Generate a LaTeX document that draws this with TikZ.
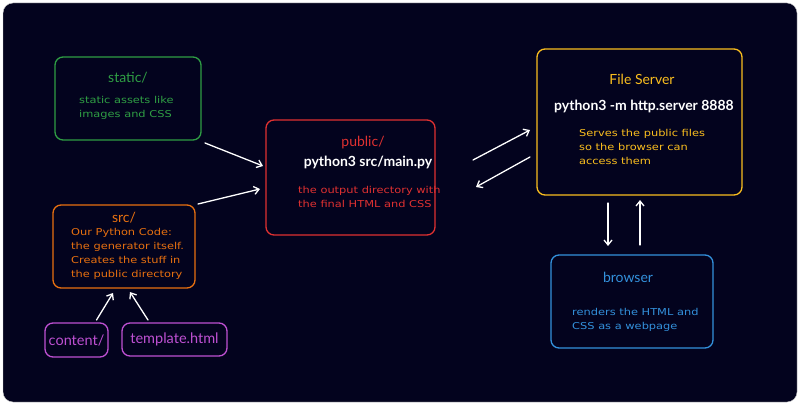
\documentclass[tikz,border=0pt]{standalone}
\usepackage{fontspec}
\setmainfont{Lato}
\newfontfamily\handfont[FakeStretch=1.2]{DejaVu Sans}
\usetikzlibrary{arrows.meta,positioning}
\definecolor{bgnavy}{RGB}{3,3,30}
\definecolor{cgreen}{RGB}{47,158,68}
\definecolor{corange}{RGB}{232,112,16}
\definecolor{cpurple}{RGB}{190,80,210}
\definecolor{cred}{RGB}{224,49,49}
\definecolor{cyellow}{RGB}{250,190,30}
\definecolor{cblue}{RGB}{51,145,220}
\begin{document}
\begin{tikzpicture}[x=1pt,y=-1pt,
  box/.style={draw=#1, line width=1.3pt, rounded corners=8pt, inner sep=0pt, outer sep=0pt},
  title/.style={text=#1, font=\fontsize{14}{16}\selectfont, inner sep=0pt},
  cmd/.style={text=white, font=\fontsize{14}{16}\selectfont\bfseries, inner sep=0pt},
  note/.style={text=#1, font=\handfont\fontsize{9.5}{14}\selectfont, align=left, anchor=west, inner sep=0pt},
  arr/.style={draw=white, line width=1.3pt, line cap=round, -{Straight Barb[length=5pt,width=8pt]}}]
\useasboundingbox (0,0) rectangle (800,406);
\draw[fill=bgnavy, draw=gray!40, rounded corners=10pt] (3,3) rectangle (797,402);
\node[box=cgreen, minimum width=146pt, minimum height=83pt] (static) at (128,98.5) {};
\node[title=cgreen] (statict) at (128,78) {static/};
\node[note=cgreen] (staticn) at (79,107.5) {static assets like\\images and CSS};
\node[box=corange, minimum width=142pt, minimum height=83pt] (src) at (124,246.5) {};
\node[title=corange] (srct) at (124,218) {src/};
\node[note=corange] (srcn) at (71,253.5) {Our Python Code:\\the generator itself.\\Creates the stuff in\\the public directory};
\node[box=cpurple, minimum width=63pt, minimum height=34pt, title=cpurple, font=\fontsize{14.5}{16}\selectfont] (content) at (76.5,340) {content/};
\node[box=cpurple, minimum width=105pt, minimum height=33pt, title=cpurple, font=\fontsize{14.5}{16}\selectfont] (template) at (174.5,339.5) {template.html};
\node[box=cred, minimum width=169pt, minimum height=115pt] (public) at (350.5,177.5) {};
\node[title=cred] (publict) at (363,143) {public/};
\node[cmd] (publicc) at (368,162) {python3 src/main.py};
\node[note=cred] (publicn) at (298,197) {the output directory with\\the final HTML and CSS};
\node[box=cyellow, minimum width=205pt, minimum height=146pt] (server) at (639.5,122) {};
\node[title=cyellow] (servert) at (642,79) {File Server};
\node[cmd] (serverc) at (644,106) {python3 -m http.server 8888};
\node[note=cyellow] (servern) at (579,147) {Serves the public files\\so the browser can\\access them};
\node[box=cblue, minimum width=162pt, minimum height=93pt] (browser) at (632,301.5) {};
\node[title=cblue] (browsert) at (628,277) {browser};
\node[note=cblue] (browsern) at (572,320) {renders the HTML and\\CSS as a webpage};
\draw[arr] ([shift={(4pt,-3pt)}]static.south east) -- ([shift={(-3pt,11.5pt)}]public.west);
\draw[arr] ([shift={(3pt,1pt)}]src.north east) -- ([shift={(-6pt,-11.5pt)}]public.west);
\draw[arr] ([shift={(20pt,3pt)}]content.north) -- ([shift={(-11pt,-5pt)}]src.south);
\draw[arr] ([shift={(-26.5pt,3pt)}]template.north) -- ([shift={(6pt,-4pt)}]src.south);
\draw[arr] ([shift={(38pt,17.5pt)}]public.east) -- ([shift={(-7pt,-8pt)}]server.west);
\draw[arr] ([shift={(-7pt,-35pt)}]server.west) -- ([shift={(41pt,-9.5pt)}]public.east);
\draw[arr] ([shift={(-31.5pt,-8pt)}]server.south) -- ([shift={(-24pt,9pt)}]browser.north);
\draw[arr] ([shift={(8pt,10pt)}]browser.north) -- ([shift={(0.5pt,-5pt)}]server.south);
\end{tikzpicture}
\end{document}
